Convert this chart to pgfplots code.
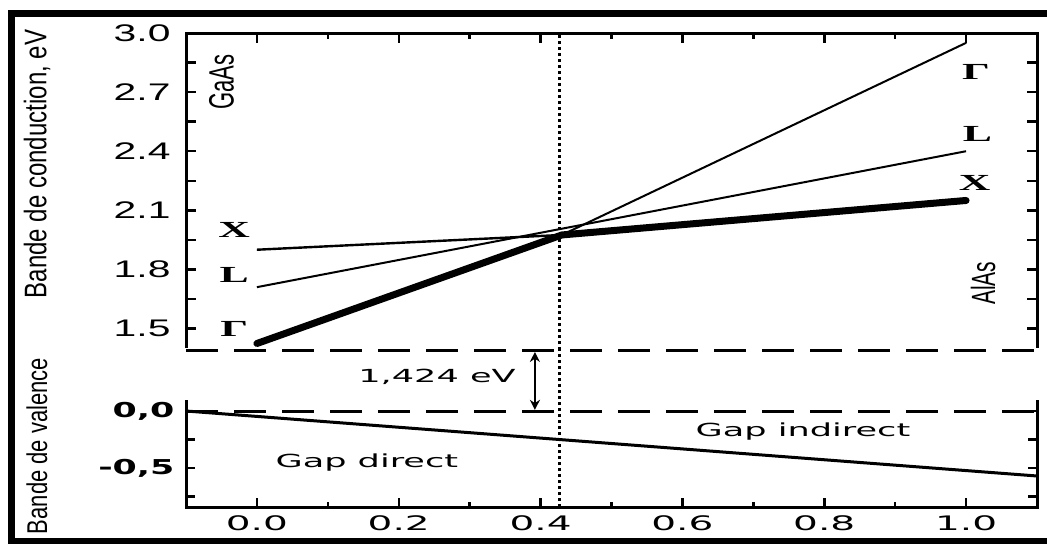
\documentclass[border=0pt]{standalone}
\usepackage{fontspec}
\setmainfont{Liberation Sans}
\newfontfamily\dejavu{DejaVu Sans}
\newfontfamily\lserif{Liberation Serif}
\usepackage{graphicx}
\usepackage{pgfplots}
\pgfplotsset{compat=1.18}
\usetikzlibrary{arrows.meta}

\newcommand{\fs}[1]{\fontsize{#1}{#1}\selectfont}
\newcommand{\tl}[1]{\scalebox{1.7}[1]{\fs{24}#1}}
\newcommand{\bl}[1]{\scalebox{1.95}[1]{\dejavu\fs{20}#1}}
\newcommand{\vl}[1]{\scalebox{1.7}[1]{\dejavu\bfseries\fs{20.5}#1}}
\newcommand{\gl}[1]{\scalebox{1.9}[1]{\lserif\bfseries\fs{23}#1}}
\newcommand{\dt}[1]{\scalebox{1.95}[1]{\dejavu\fs{18}#1}}
\newcommand{\rt}[3]{\scalebox{1}[#1]{\fs{#2}#3}}

\begin{document}
\begin{tikzpicture}[x=1pt,y=1pt]
\path[use as bounding box] (0,0) rectangle (1047,-544);
\fill (8,-10) rectangle (1047,-17);
\fill (8,-10) rectangle (15,-544);
\fill (8,-538) rectangle (1047,-544);

\node[rotate=90] at (37,-164) {\rt{1.3}{24}{Bande de conduction, eV}};
\node[rotate=90] at (37,-446) {\rt{1.3}{22}{Bande de valence}};

% ---------------- upper axis: conduction band
\begin{axis}[
  at={(186pt,-350pt)}, anchor=south west,
  scale only axis, width=851pt, height=317pt,
  xmin=-0.1, xmax=1.1, ymin=1.391, ymax=3.0,
  axis line style={line width=3pt},
  every tick/.style={black, line width=2.5pt},
  major tick length=10pt, minor tick length=6pt,
  tick align=inside,
  xtick pos=right,
  xtick={0,0.2,0.4,0.6,0.8,1.0},
  minor xtick={0.1,0.3,0.5,0.7,0.9},
  xticklabels={},
  ytick pos=both,
  ytick={1.5,1.65,1.8,1.95,2.1,2.25,2.4,2.55,2.7,2.85,3.0},
  yticklabels={{\tl{1.5}},{},{\tl{1.8}},{},{\tl{2.1}},{},{\tl{2.4}},{},{\tl{2.7}},{},{\tl{3.0}}},
  yticklabel style={xshift=-12pt},
  clip=false,
]
\draw[white, line width=4.5pt, shorten <=-3pt, shorten >=-3pt] (axis cs:-0.1,1.391) -- (axis cs:1.1,1.391);
\draw[line width=3pt, dash pattern=on 32pt off 16pt] (axis cs:-0.1,1.391) -- (axis cs:1.1,1.391);
\addplot[line width=2pt] coordinates {(0,1.424) (0.43,1.975) (1.0,2.95)};
\addplot[line width=2pt] coordinates {(0,1.71) (1.0,2.40)};
\addplot[line width=2.4pt] coordinates {(0,1.90) (0.43,1.975) (1.0,2.15)};
\addplot[line width=7pt, line cap=round, line join=round] coordinates {(0,1.424) (0.43,1.975) (1.0,2.15)};
\addplot[line width=3pt, dash pattern=on 3pt off 3pt] coordinates {(0.427,1.391) (0.427,3.0)};
\node at (axis cs:-0.032,2.0) {\gl{X}};
\node at (axis cs:-0.032,1.77) {\gl{L}};
\node at (axis cs:-0.032,1.50) {\gl{Γ}};
\node at (axis cs:1.014,2.80) {\gl{Γ}};
\node at (axis cs:1.016,2.485) {\gl{L}};
\node at (axis cs:1.012,2.24) {\gl{X}};
\node[rotate=90] at (axis cs:-0.05,2.75) {\rt{1.6}{22}{GaAs}};
\node[rotate=90] at (axis cs:1.024,1.73) {\rt{1.6}{21}{AlAs}};
\end{axis}

% ---------------- lower axis: valence band
\begin{axis}[
  at={(186pt,-507pt)}, anchor=south west,
  scale only axis, width=851pt, height=109pt,
  xmin=-0.1, xmax=1.1, ymin=-0.842, ymax=0.114,
  axis line style={line width=3pt},
  every tick/.style={black, line width=2.5pt},
  major tick length=9pt, minor tick length=5pt,
  tick align=inside,
  xtick pos=left,
  xtick={0,0.2,0.4,0.6,0.8,1.0},
  xticklabels={{\bl{0.0}},{\bl{0.2}},{\bl{0.4}},{\bl{0.6}},{\bl{0.8}},{\bl{1.0}}},
  minor xtick={0.1,0.3,0.5,0.7,0.9},
  xticklabel style={yshift=-5pt},
  ytick pos=both,
  ytick={-0.75,-0.5,-0.25,0},
  yticklabels={{},{\vl{-0,5}},{},{\vl{0,0}}},
  yticklabel style={xshift=-8pt},
  clip=false,
]
\draw[white, line width=4.5pt, shorten <=-3pt, shorten >=-3pt] (axis cs:-0.1,0.114) -- (axis cs:1.1,0.114);
\draw[line width=3pt, dash pattern=on 32pt off 16pt] (axis cs:-0.1,0) -- (axis cs:1.1,0);
\addplot[line width=3pt] coordinates {(-0.1,0) (1.1,-0.57)};
\addplot[line width=3pt, dash pattern=on 3pt off 3pt] coordinates {(0.427,-0.842) (0.427,0.535)};
\draw[{Stealth[length=10pt,width=10pt]}-{Stealth[length=10pt,width=10pt]}, line width=2.5pt] (axis cs:0.392,0.518) -- (axis cs:0.392,0.01);
\node at (axis cs:0.254,0.30) {\dt{1,424 eV}};
\node at (axis cs:0.155,-0.45) {\dt{Gap direct}};
\node at (axis cs:0.77,-0.18) {\dt{Gap indirect}};
\end{axis}
\end{tikzpicture}
\end{document}
